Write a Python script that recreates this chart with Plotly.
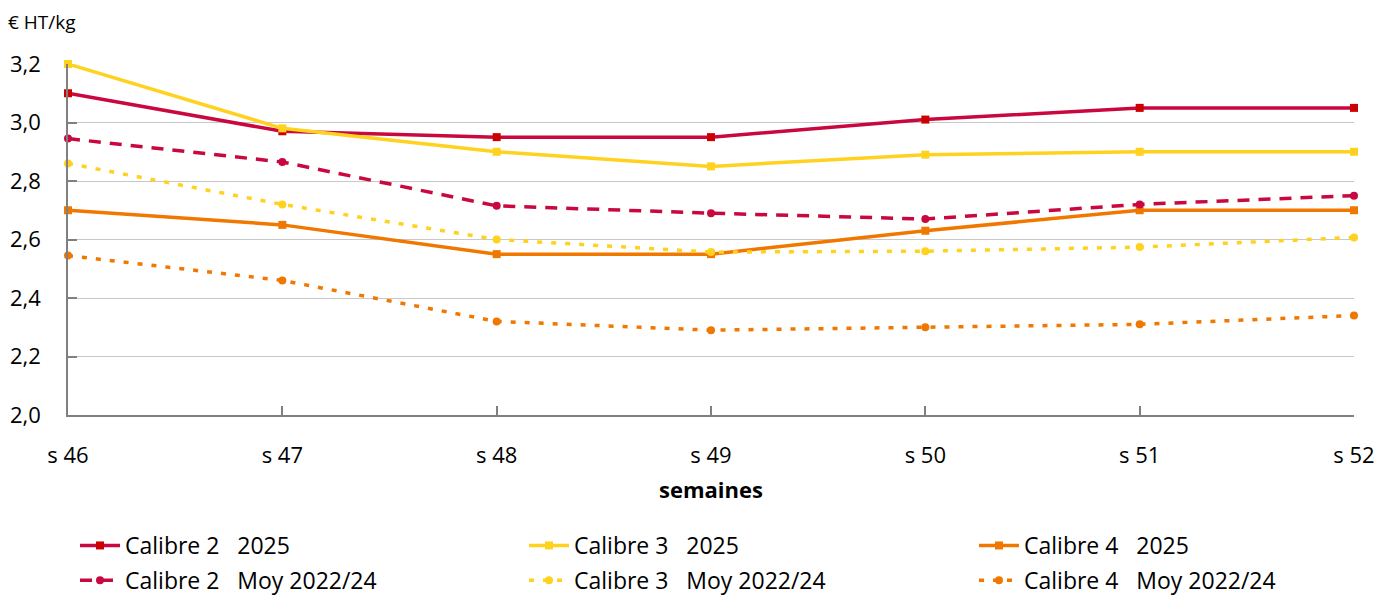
import plotly.graph_objects as go

weeks = ["s 46", "s 47", "s 48", "s 49", "s 50", "s 51", "s 52"]
c2_2025 = [3.10, 2.97, 2.95, 2.95, 3.01, 3.05, 3.05]
c3_2025 = [3.20, 2.98, 2.90, 2.85, 2.89, 2.90, 2.90]
c4_2025 = [2.70, 2.65, 2.55, 2.55, 2.63, 2.70, 2.70]
c2_moy = [2.945, 2.865, 2.715, 2.69, 2.67, 2.72, 2.75]
c3_moy = [2.86, 2.72, 2.60, 2.557, 2.56, 2.574, 2.607]
c4_moy = [2.545, 2.46, 2.32, 2.29, 2.30, 2.31, 2.34]
y_ticks = [2.0, 2.2, 2.4, 2.6, 2.8, 3.0, 3.2]

FONT = "Open Sans"
RED_L, RED_M = "#C8083E", "#CC0000"
YEL = "#FFD21F"
ORA = "#F07800"

W, H = 1379, 595
L, R, T, B = 68, 25, 64, 180
PW, PH = W - L - R, H - T - B

series = [
    ("Calibre 2   2025", c2_2025, RED_L, RED_M, "solid", "square", "legend"),
    ("Calibre 3   2025", c3_2025, YEL, YEL, "solid", "square", "legend2"),
    ("Calibre 4   2025", c4_2025, ORA, ORA, "solid", "square", "legend3"),
    ("Calibre 2   Moy 2022/24", c2_moy, RED_L, RED_L, "12px,9px", "circle", "legend"),
    ("Calibre 3   Moy 2022/24", c3_moy, YEL, YEL, "5px,9px", "circle", "legend2"),
    ("Calibre 4   Moy 2022/24", c4_moy, ORA, ORA, "5px,9px", "circle", "legend3"),
]

fig = go.Figure()
for i, (name, vals, lc, mc, dash, sym, lg) in enumerate(series):
    fig.add_trace(go.Scatter(
        x=list(range(len(weeks))), y=vals, name=name, mode="lines+markers",
        line=dict(color=lc, width=3.5, dash=dash),
        marker=dict(color=mc, size=8, symbol=sym),
        cliponaxis=False, legend=lg, legendgroup=f"g{i}",
    ))

def px_x(p):
    return (p - L) / PW

def px_y(p):
    return (H - B - p) / PH

leg_common = dict(
    orientation="v", yanchor="top", xanchor="left",
    font=dict(family=FONT, size=23, color="#000000"),
    tracegroupgap=2, itemwidth=40, bgcolor="rgba(0,0,0,0)",
)
leg_top = px_y(524)

fig.update_layout(
    width=W, height=H,
    margin=dict(l=L, r=R, t=T, b=B, autoexpand=False),
    paper_bgcolor="white", plot_bgcolor="white",
    separators=", ",
    font=dict(family=FONT, size=22, color="#000000"),
    showlegend=True,
    legend=dict(x=px_x(75), y=leg_top, **leg_common),
    legend2=dict(x=px_x(524), y=leg_top, **leg_common),
    legend3=dict(x=px_x(974), y=leg_top, **leg_common),
    xaxis=dict(
        range=[0, 6], tickmode="array", tickvals=list(range(len(weeks))), ticktext=weeks,
        showgrid=False, showline=True, linecolor="#808080", linewidth=1.5,
        ticks="inside", ticklen=9, tickcolor="#808080", tickwidth=1.5,
        tickfont=dict(family=FONT, size=22), ticklabelstandoff=20,
        zeroline=False,
    ),
    yaxis=dict(
        range=[2.0, 3.2], tickmode="array", tickvals=y_ticks, tickformat=".1f",
        showgrid=True, gridcolor="#C8C8C8", gridwidth=1,
        showline=True, linecolor="#808080", linewidth=1.5,
        ticks="inside", ticklen=9, tickcolor="#808080", tickwidth=1.5,
        tickfont=dict(family=FONT, size=22), ticklabelstandoff=21,
        zeroline=False,
    ),
    annotations=[
        dict(
            text="€ HT/kg", xref="paper", yref="paper", x=px_x(6), y=px_y(22),
            xanchor="left", yanchor="middle", showarrow=False,
            font=dict(family=FONT, size=19, color="#000000"),
        ),
        dict(
            text="<b>semaines</b>", xref="paper", yref="paper", x=0.5, y=px_y(489),
            xanchor="center", yanchor="middle", showarrow=False,
            font=dict(family=FONT, size=22, color="#000000"),
        ),
    ],
)

fig.write_html(
    "out.html",
    config={"displayModeBar": False},
    post_script="document.body.style.margin='0';document.body.style.padding='0';",
)
